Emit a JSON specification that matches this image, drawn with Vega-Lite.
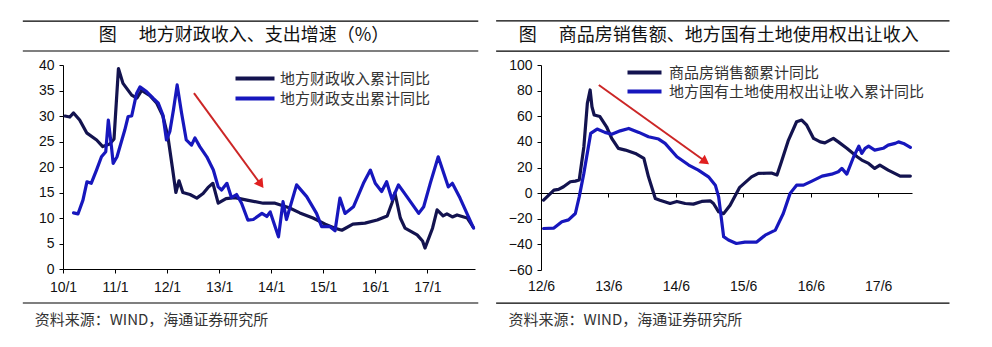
{
  "$schema": "https://vega.github.io/schema/vega-lite/v6.json",
  "background": "white",
  "padding": {"left": 22, "top": 20, "right": 0, "bottom": 0},
  "autosize": {"type": "pad"},
  "config": {"view": {"stroke": null}, "font": "Liberation Sans"},
  "spacing": 16,
  "resolve": {"scale": {"color": "independent", "x": "independent", "y": "independent"}, "legend": {"color": "independent"}},
  "datasets": {
    "fiscal": [
      {"d": "2010-01-15", "v": 30, "s": "地方财政收入累计同比"},
      {"d": "2010-02-18", "v": 29.8, "s": "地方财政收入累计同比"},
      {"d": "2010-03-16", "v": 30.6, "s": "地方财政收入累计同比"},
      {"d": "2010-04-28", "v": 29.2, "s": "地方财政收入累计同比"},
      {"d": "2010-06-16", "v": 26.7, "s": "地方财政收入累计同比"},
      {"d": "2010-08-25", "v": 25.3, "s": "地方财政收入累计同比"},
      {"d": "2010-10-07", "v": 24, "s": "地方财政收入累计同比"},
      {"d": "2010-11-25", "v": 24.5, "s": "地方财政收入累计同比"},
      {"d": "2010-12-25", "v": 25.5, "s": "地方财政收入累计同比"},
      {"d": "2011-01-25", "v": 39.3, "s": "地方财政收入累计同比"},
      {"d": "2011-02-26", "v": 36.4, "s": "地方财政收入累计同比"},
      {"d": "2011-04-28", "v": 34.1, "s": "地方财政收入累计同比"},
      {"d": "2011-06-03", "v": 33.5, "s": "地方财政收入累计同比"},
      {"d": "2011-07-07", "v": 35, "s": "地方财政收入累计同比"},
      {"d": "2011-09-03", "v": 34, "s": "地方财政收入累计同比"},
      {"d": "2011-10-21", "v": 32.5, "s": "地方财政收入累计同比"},
      {"d": "2011-12-03", "v": 30, "s": "地方财政收入累计同比"},
      {"d": "2012-01-07", "v": 26, "s": "地方财政收入累计同比"},
      {"d": "2012-02-07", "v": 20, "s": "地方财政收入累计同比"},
      {"d": "2012-03-03", "v": 15, "s": "地方财政收入累计同比"},
      {"d": "2012-03-25", "v": 17.3, "s": "地方财政收入累计同比"},
      {"d": "2012-04-21", "v": 15, "s": "地方财政收入累计同比"},
      {"d": "2012-06-10", "v": 14.6, "s": "地方财政收入累计同比"},
      {"d": "2012-07-28", "v": 13.9, "s": "地方财政收入累计同比"},
      {"d": "2012-09-10", "v": 14.8, "s": "地方财政收入累计同比"},
      {"d": "2012-10-15", "v": 16, "s": "地方财政收入累计同比"},
      {"d": "2012-11-18", "v": 16.8, "s": "地方财政收入累计同比"},
      {"d": "2012-12-25", "v": 12.9, "s": "地方财政收入累计同比"},
      {"d": "2013-02-18", "v": 13.8, "s": "地方财政收入累计同比"},
      {"d": "2013-04-21", "v": 14, "s": "地方财政收入累计同比"},
      {"d": "2013-07-15", "v": 13.5, "s": "地方财政收入累计同比"},
      {"d": "2013-11-06", "v": 12.9, "s": "地方财政收入累计同比"},
      {"d": "2014-01-28", "v": 12.9, "s": "地方财政收入累计同比"},
      {"d": "2014-05-07", "v": 12, "s": "地方财政收入累计同比"},
      {"d": "2014-07-21", "v": 11, "s": "地方财政收入累计同比"},
      {"d": "2014-10-21", "v": 10, "s": "地方财政收入累计同比"},
      {"d": "2015-01-15", "v": 8.8, "s": "地方财政收入累计同比"},
      {"d": "2015-03-25", "v": 8, "s": "地方财政收入累计同比"},
      {"d": "2015-05-12", "v": 7.6, "s": "地方财政收入累计同比"},
      {"d": "2015-07-28", "v": 8.8, "s": "地方财政收入累计同比"},
      {"d": "2015-10-21", "v": 9, "s": "地方财政收入累计同比"},
      {"d": "2016-01-15", "v": 9.6, "s": "地方财政收入累计同比"},
      {"d": "2016-03-25", "v": 10.4, "s": "地方财政收入累计同比"},
      {"d": "2016-04-28", "v": 13, "s": "地方财政收入累计同比"},
      {"d": "2016-05-18", "v": 14.9, "s": "地方财政收入累计同比"},
      {"d": "2016-06-25", "v": 10, "s": "地方财政收入累计同比"},
      {"d": "2016-07-28", "v": 8, "s": "地方财政收入累计同比"},
      {"d": "2016-10-21", "v": 6.7, "s": "地方财政收入累计同比"},
      {"d": "2016-11-28", "v": 5.5, "s": "地方财政收入累计同比"},
      {"d": "2016-12-15", "v": 4.1, "s": "地方财政收入累计同比"},
      {"d": "2017-02-06", "v": 8, "s": "地方财政收入累计同比"},
      {"d": "2017-03-10", "v": 11.6, "s": "地方财政收入累计同比"},
      {"d": "2017-04-21", "v": 10.4, "s": "地方财政收入累计同比"},
      {"d": "2017-05-18", "v": 10.8, "s": "地方财政收入累计同比"},
      {"d": "2017-06-25", "v": 10.2, "s": "地方财政收入累计同比"},
      {"d": "2017-07-28", "v": 10.6, "s": "地方财政收入累计同比"},
      {"d": "2017-10-07", "v": 10, "s": "地方财政收入累计同比"},
      {"d": "2017-11-18", "v": 8.2, "s": "地方财政收入累计同比"},
      {"d": "2010-03-16", "v": 11, "s": "地方财政支出累计同比"},
      {"d": "2010-04-16", "v": 10.8, "s": "地方财政支出累计同比"},
      {"d": "2010-05-21", "v": 13.5, "s": "地方财政支出累计同比"},
      {"d": "2010-06-18", "v": 17.1, "s": "地方财政支出累计同比"},
      {"d": "2010-07-18", "v": 16.8, "s": "地方财政支出累计同比"},
      {"d": "2010-08-24", "v": 19.4, "s": "地方财政支出累计同比"},
      {"d": "2010-09-28", "v": 22, "s": "地方财政支出累计同比"},
      {"d": "2010-10-28", "v": 23, "s": "地方财政支出累计同比"},
      {"d": "2010-11-15", "v": 29.2, "s": "地方财政支出累计同比"},
      {"d": "2010-12-07", "v": 24, "s": "地方财政支出累计同比"},
      {"d": "2010-12-19", "v": 20.7, "s": "地方财政支出累计同比"},
      {"d": "2011-01-15", "v": 22, "s": "地方财政支出累计同比"},
      {"d": "2011-03-10", "v": 27.2, "s": "地方财政支出累计同比"},
      {"d": "2011-04-03", "v": 29.9, "s": "地方财政支出累计同比"},
      {"d": "2011-04-28", "v": 30, "s": "地方财政支出累计同比"},
      {"d": "2011-06-01", "v": 34.4, "s": "地方财政支出累计同比"},
      {"d": "2011-06-25", "v": 35.7, "s": "地方财政支出累计同比"},
      {"d": "2011-08-10", "v": 34.8, "s": "地方财政支出累计同比"},
      {"d": "2011-09-25", "v": 33.5, "s": "地方财政支出累计同比"},
      {"d": "2011-11-01", "v": 32.5, "s": "地方财政支出累计同比"},
      {"d": "2011-12-03", "v": 30.2, "s": "地方财政支出累计同比"},
      {"d": "2011-12-28", "v": 25.3, "s": "地方财政支出累计同比"},
      {"d": "2012-01-21", "v": 27, "s": "地方财政支出累计同比"},
      {"d": "2012-02-15", "v": 31.2, "s": "地方财政支出累计同比"},
      {"d": "2012-03-12", "v": 36.1, "s": "地方财政支出累计同比"},
      {"d": "2012-04-12", "v": 30.6, "s": "地方财政支出累计同比"},
      {"d": "2012-05-15", "v": 25.3, "s": "地方财政支出累计同比"},
      {"d": "2012-06-21", "v": 24.3, "s": "地方财政支出累计同比"},
      {"d": "2012-07-15", "v": 25.7, "s": "地方财政支出累计同比"},
      {"d": "2012-08-18", "v": 24, "s": "地方财政支出累计同比"},
      {"d": "2012-10-06", "v": 22, "s": "地方财政支出累计同比"},
      {"d": "2012-11-21", "v": 19.4, "s": "地方财政支出累计同比"},
      {"d": "2012-12-25", "v": 16.1, "s": "地方财政支出累计同比"},
      {"d": "2013-01-18", "v": 15.5, "s": "地方财政支出累计同比"},
      {"d": "2013-02-24", "v": 16.8, "s": "地方财政支出累计同比"},
      {"d": "2013-03-28", "v": 14, "s": "地方财政支出累计同比"},
      {"d": "2013-05-03", "v": 14.6, "s": "地方财政支出累计同比"},
      {"d": "2013-06-07", "v": 12.9, "s": "地方财政支出累计同比"},
      {"d": "2013-07-21", "v": 9.6, "s": "地方财政支出累计同比"},
      {"d": "2013-08-28", "v": 9.7, "s": "地方财政支出累计同比"},
      {"d": "2013-10-28", "v": 10.9, "s": "地方财政支出累计同比"},
      {"d": "2013-12-01", "v": 10.3, "s": "地方财政支出累计同比"},
      {"d": "2013-12-25", "v": 11.2, "s": "地方财政支出累计同比"},
      {"d": "2014-02-21", "v": 6.3, "s": "地方财政支出累计同比"},
      {"d": "2014-03-25", "v": 13.2, "s": "地方财政支出累计同比"},
      {"d": "2014-04-18", "v": 9.7, "s": "地方财政支出累计同比"},
      {"d": "2014-06-28", "v": 16.5, "s": "地方财政支出累计同比"},
      {"d": "2014-09-07", "v": 14.2, "s": "地方财政支出累计同比"},
      {"d": "2014-11-15", "v": 10.9, "s": "地方财政支出累计同比"},
      {"d": "2014-12-21", "v": 8.3, "s": "地方财政支出累计同比"},
      {"d": "2015-02-18", "v": 8.3, "s": "地方财政支出累计同比"},
      {"d": "2015-03-25", "v": 7.5, "s": "地方财政支出累计同比"},
      {"d": "2015-04-28", "v": 13.9, "s": "地方财政支出累计同比"},
      {"d": "2015-06-03", "v": 10.9, "s": "地方财政支出累计同比"},
      {"d": "2015-08-01", "v": 12.2, "s": "地方财政支出累计同比"},
      {"d": "2015-10-10", "v": 16.8, "s": "地方财政支出累计同比"},
      {"d": "2015-11-28", "v": 19.4, "s": "地方财政支出累计同比"},
      {"d": "2016-01-01", "v": 16.8, "s": "地方财政支出累计同比"},
      {"d": "2016-02-15", "v": 15.2, "s": "地方财政支出累计同比"},
      {"d": "2016-03-21", "v": 17.1, "s": "地方财政支出累计同比"},
      {"d": "2016-04-28", "v": 13.6, "s": "地方财政支出累计同比"},
      {"d": "2016-06-12", "v": 16.5, "s": "地方财政支出累计同比"},
      {"d": "2016-08-10", "v": 14.2, "s": "地方财政支出累计同比"},
      {"d": "2016-11-01", "v": 10.9, "s": "地方财政支出累计同比"},
      {"d": "2016-12-06", "v": 12.2, "s": "地方财政支出累计同比"},
      {"d": "2017-01-21", "v": 16.8, "s": "地方财政支出累计同比"},
      {"d": "2017-03-18", "v": 22, "s": "地方财政支出累计同比"},
      {"d": "2017-05-28", "v": 16.1, "s": "地方财政支出累计同比"},
      {"d": "2017-06-25", "v": 16.8, "s": "地方财政支出累计同比"},
      {"d": "2017-08-18", "v": 13.9, "s": "地方财政支出累计同比"},
      {"d": "2017-11-21", "v": 8, "s": "地方财政支出累计同比"}
    ],
    "land": [
      {"d": "2012-06-15", "v": -5.5, "s": "商品房销售额累计同比"},
      {"d": "2012-07-13", "v": -1.6, "s": "商品房销售额累计同比"},
      {"d": "2012-08-10", "v": 2.3, "s": "商品房销售额累计同比"},
      {"d": "2012-09-04", "v": 2.9, "s": "商品房销售额累计同比"},
      {"d": "2012-10-01", "v": 5, "s": "商品房销售额累计同比"},
      {"d": "2012-11-07", "v": 8.9, "s": "商品房销售额累计同比"},
      {"d": "2012-12-04", "v": 9.4, "s": "商品房销售额累计同比"},
      {"d": "2012-12-25", "v": 10.2, "s": "商品房销售额累计同比"},
      {"d": "2013-01-19", "v": 36, "s": "商品房销售额累计同比"},
      {"d": "2013-02-07", "v": 70, "s": "商品房销售额累计同比"},
      {"d": "2013-02-22", "v": 80.5, "s": "商品房销售额累计同比"},
      {"d": "2013-03-04", "v": 67.4, "s": "商品房销售额累计同比"},
      {"d": "2013-03-16", "v": 61, "s": "商品房销售额累计同比"},
      {"d": "2013-04-16", "v": 59.8, "s": "商品房销售额累计同比"},
      {"d": "2013-05-22", "v": 51.8, "s": "商品房销售额累计同比"},
      {"d": "2013-06-19", "v": 42.7, "s": "商品房销售额累计同比"},
      {"d": "2013-07-25", "v": 34.9, "s": "商品房销售额累计同比"},
      {"d": "2013-09-01", "v": 33.6, "s": "商品房销售额累计同比"},
      {"d": "2013-10-25", "v": 31, "s": "商品房销售额累计同比"},
      {"d": "2013-12-10", "v": 27.1, "s": "商品房销售额累计同比"},
      {"d": "2014-01-04", "v": 12.7, "s": "商品房销售额累计同比"},
      {"d": "2014-02-10", "v": -4.2, "s": "商品房销售额累计同比"},
      {"d": "2014-03-07", "v": -5.5, "s": "商品房销售额累计同比"},
      {"d": "2014-05-01", "v": -8.1, "s": "商品房销售额累计同比"},
      {"d": "2014-06-07", "v": -6.5, "s": "商品房销售额累计同比"},
      {"d": "2014-07-22", "v": -8.1, "s": "商品房销售额累计同比"},
      {"d": "2014-09-04", "v": -8.6, "s": "商品房销售额累计同比"},
      {"d": "2014-10-19", "v": -6.5, "s": "商品房销售额累计同比"},
      {"d": "2014-12-04", "v": -6, "s": "商品房销售额累计同比"},
      {"d": "2014-12-22", "v": -8.1, "s": "商品房销售额累计同比"},
      {"d": "2015-01-19", "v": -14.6, "s": "商品房销售额累计同比"},
      {"d": "2015-02-15", "v": -16, "s": "商品房销售额累计同比"},
      {"d": "2015-03-22", "v": -9.4, "s": "商品房销售额累计同比"},
      {"d": "2015-05-13", "v": 4.5, "s": "商品房销售额累计同比"},
      {"d": "2015-07-16", "v": 12.7, "s": "商品房销售额累计同比"},
      {"d": "2015-08-22", "v": 15.4, "s": "商品房销售额累计同比"},
      {"d": "2015-11-01", "v": 15.7, "s": "商品房销售额累计同比"},
      {"d": "2015-12-01", "v": 14.1, "s": "商品房销售额累计同比"},
      {"d": "2015-12-25", "v": 24.5, "s": "商品房销售额累计同比"},
      {"d": "2016-02-01", "v": 41.4, "s": "商品房销售额累计同比"},
      {"d": "2016-03-16", "v": 55.7, "s": "商品房销售额累计同比"},
      {"d": "2016-04-13", "v": 57, "s": "商品房销售额累计同比"},
      {"d": "2016-05-10", "v": 53, "s": "商品房销售额累计同比"},
      {"d": "2016-06-16", "v": 42.7, "s": "商品房销售额累计同比"},
      {"d": "2016-07-22", "v": 40, "s": "商品房销售额累计同比"},
      {"d": "2016-08-16", "v": 39.2, "s": "商品房销售额累计同比"},
      {"d": "2016-10-01", "v": 42.7, "s": "商品房销售额累计同比"},
      {"d": "2016-10-28", "v": 40, "s": "商品房销售额累计同比"},
      {"d": "2016-12-13", "v": 35, "s": "商品房销售额累计同比"},
      {"d": "2017-02-07", "v": 28.4, "s": "商品房销售额累计同比"},
      {"d": "2017-03-04", "v": 25.8, "s": "商品房销售额累计同比"},
      {"d": "2017-04-10", "v": 23.2, "s": "商品房销售额累计同比"},
      {"d": "2017-05-13", "v": 19.3, "s": "商品房销售额累计同比"},
      {"d": "2017-06-10", "v": 21.9, "s": "商品房销售额累计同比"},
      {"d": "2017-07-25", "v": 18, "s": "商品房销售额累计同比"},
      {"d": "2017-09-28", "v": 13.3, "s": "商品房销售额累计同比"},
      {"d": "2017-11-22", "v": 13.3, "s": "商品房销售额累计同比"},
      {"d": "2012-06-15", "v": -27.6, "s": "地方国有土地使用权出让收入累计同比"},
      {"d": "2012-08-10", "v": -27.3, "s": "地方国有土地使用权出让收入累计同比"},
      {"d": "2012-09-22", "v": -22.4, "s": "地方国有土地使用权出让收入累计同比"},
      {"d": "2012-10-28", "v": -20.9, "s": "地方国有土地使用权出让收入累计同比"},
      {"d": "2012-12-04", "v": -15.9, "s": "地方国有土地使用权出让收入累计同比"},
      {"d": "2012-12-25", "v": -2.9, "s": "地方国有土地使用权出让收入累计同比"},
      {"d": "2013-01-19", "v": 15.4, "s": "地方国有土地使用权出让收入累计同比"},
      {"d": "2013-02-25", "v": 46.6, "s": "地方国有土地使用权出让收入累计同比"},
      {"d": "2013-04-01", "v": 50, "s": "地方国有土地使用权出让收入累计同比"},
      {"d": "2013-05-13", "v": 47.4, "s": "地方国有土地使用权出让收入累计同比"},
      {"d": "2013-06-19", "v": 45.9, "s": "地方国有土地使用权出让收入累计同比"},
      {"d": "2013-08-04", "v": 48.6, "s": "地方国有土地使用权出让收入累计同比"},
      {"d": "2013-09-19", "v": 50.5, "s": "地方国有土地使用权出让收入累计同比"},
      {"d": "2013-11-13", "v": 47.4, "s": "地方国有土地使用权出让收入累计同比"},
      {"d": "2014-01-04", "v": 44, "s": "地方国有土地使用权出让收入累计同比"},
      {"d": "2014-02-28", "v": 42.2, "s": "地方国有土地使用权出让收入累计同比"},
      {"d": "2014-04-04", "v": 38.8, "s": "地方国有土地使用权出让收入累计同比"},
      {"d": "2014-06-07", "v": 28.4, "s": "地方国有土地使用权出让收入累计同比"},
      {"d": "2014-08-10", "v": 21.9, "s": "地方国有土地使用权出让收入累计同比"},
      {"d": "2014-10-01", "v": 18, "s": "地方国有土地使用权出让收入累计同比"},
      {"d": "2014-11-25", "v": 12.7, "s": "地方国有土地使用权出让收入累计同比"},
      {"d": "2015-01-01", "v": 6.2, "s": "地方国有土地使用权出让收入累计同比"},
      {"d": "2015-01-19", "v": -2.9, "s": "地方国有土地使用权出让收入累计同比"},
      {"d": "2015-02-15", "v": -34, "s": "地方国有土地使用权出让收入累计同比"},
      {"d": "2015-03-13", "v": -36.6, "s": "地方国有土地使用权出让收入累计同比"},
      {"d": "2015-04-25", "v": -39.3, "s": "地方国有土地使用权出让收入累计同比"},
      {"d": "2015-06-10", "v": -38.2, "s": "地方国有土地使用权出让收入累计同比"},
      {"d": "2015-08-13", "v": -38.2, "s": "地方国有土地使用权出让收入累计同比"},
      {"d": "2015-09-28", "v": -32.8, "s": "地方国有土地使用权出让收入累计同比"},
      {"d": "2015-11-22", "v": -28.9, "s": "地方国有土地使用权出让收入累计同比"},
      {"d": "2016-01-04", "v": -15.9, "s": "地方国有土地使用权出让收入累计同比"},
      {"d": "2016-02-10", "v": -0.2, "s": "地方国有土地使用权出让收入累计同比"},
      {"d": "2016-03-16", "v": 6.2, "s": "地方国有土地使用权出让收入累计同比"},
      {"d": "2016-04-22", "v": 6.2, "s": "地方国有土地使用权出让收入累计同比"},
      {"d": "2016-06-07", "v": 9.4, "s": "地方国有土地使用权出让收入累计同比"},
      {"d": "2016-08-01", "v": 13.3, "s": "地方国有土地使用权出让收入累计同比"},
      {"d": "2016-09-22", "v": 14.8, "s": "地方国有土地使用权出让收入累计同比"},
      {"d": "2016-10-28", "v": 16.7, "s": "地方国有土地使用权出让收入累计同比"},
      {"d": "2016-11-16", "v": 19.3, "s": "地方国有土地使用权出让收入累计同比"},
      {"d": "2016-12-13", "v": 14.8, "s": "地方国有土地使用权出让收入累计同比"},
      {"d": "2017-01-19", "v": 28.4, "s": "地方国有土地使用权出让收入累计同比"},
      {"d": "2017-02-16", "v": 36.7, "s": "地方国有土地使用权出让收入累计同比"},
      {"d": "2017-03-04", "v": 31, "s": "地方国有土地使用权出让收入累计同比"},
      {"d": "2017-03-22", "v": 35, "s": "地方国有土地使用权出让收入累计同比"},
      {"d": "2017-04-10", "v": 36.7, "s": "地方国有土地使用权出让收入累计同比"},
      {"d": "2017-05-13", "v": 33.6, "s": "地方国有土地使用权出让收入累计同比"},
      {"d": "2017-06-28", "v": 35, "s": "地方国有土地使用权出让收入累计同比"},
      {"d": "2017-07-25", "v": 37.5, "s": "地方国有土地使用权出让收入累计同比"},
      {"d": "2017-09-01", "v": 38.8, "s": "地方国有土地使用权出让收入累计同比"},
      {"d": "2017-09-19", "v": 40, "s": "地方国有土地使用权出让收入累计同比"},
      {"d": "2017-10-16", "v": 38.8, "s": "地方国有土地使用权出让收入累计同比"},
      {"d": "2017-11-22", "v": 35.7, "s": "地方国有土地使用权出让收入累计同比"}
    ]
  },
  "hconcat": [
    {
      "width": 412,
      "height": 204,
      "resolve": {"scale": {"x": "independent", "y": "independent"}},
      "layer": [
        {
          "data": {"name": "fiscal"},
          "mark": {"type": "line", "strokeWidth": 3.2, "strokeJoin": "round", "strokeCap": "round"},
          "encoding": {
            "x": {
              "field": "d", "type": "temporal",
              "scale": {"domain": [{"year": 2010, "month": 1, "date": 1}, {"year": 2017, "month": 12, "date": 1}]},
              "axis": {
                "title": null, "grid": false, "format": "%y/%-m",
                "values": [{"year": 2010, "month": 1, "date": 1}, {"year": 2011, "month": 1, "date": 1}, {"year": 2012, "month": 1, "date": 1}, {"year": 2013, "month": 1, "date": 1}, {"year": 2014, "month": 1, "date": 1}, {"year": 2015, "month": 1, "date": 1}, {"year": 2016, "month": 1, "date": 1}, {"year": 2017, "month": 1, "date": 1}],
                "labelFlush": false, "labelOverlap": false, "tickSize": 4, "labelPadding": 7,
                "domainColor": "#000", "tickColor": "#000", "labelColor": "#111",
                "labelFont": "Liberation Sans", "labelFontSize": 14
              }
            },
            "y": {
              "field": "v", "type": "quantitative",
              "scale": {"domain": [0, 40], "nice": false, "zero": false},
              "axis": {
                "title": null, "grid": false, "values": [0, 5, 10, 15, 20, 25, 30, 35, 40],
                "labelOverlap": false, "labelFlush": false,
                "tickSize": 4, "labelPadding": 5, "domainColor": "#000", "tickColor": "#000",
                "labelColor": "#111", "labelFont": "Liberation Sans", "labelFontSize": 14
              }
            },
            "color": {
              "field": "s", "type": "nominal",
              "scale": {"domain": ["地方财政收入累计同比", "地方财政支出累计同比"], "range": ["#13134f", "#1717bd"]},
              "legend": {
                "title": null, "orient": "none", "legendX": 170, "legendY": 6, "padding": 0,
                "symbolType": "M-1,0H6.8", "symbolSize": 100, "symbolStrokeWidth": 4,
                "rowPadding": 3, "labelOffset": 32, "labelLimit": 400,
                "labelFont": "Noto Sans CJK SC", "labelFontSize": 15, "labelColor": "#333"
              }
            }
          }
        },
        {
          "data": {"values": [{}]},
          "layer": [
            {
              "mark": {"type": "rule", "color": "#000", "strokeWidth": 1.2},
              "encoding": {
                "x": {"datum": {"year": 2009, "month": 3, "date": 25}, "type": "temporal", "axis": null, "scale": {"domain": [{"year": 2010, "month": 1, "date": 1}, {"year": 2017, "month": 12, "date": 1}]}},
                "x2": {"datum": {"year": 2017, "month": 12, "date": 24}},
                "y": {"datum": 48.6, "type": "quantitative", "axis": null, "scale": {"domain": [0, 40], "nice": false, "zero": false}}
              }
            },
            {
              "mark": {"type": "rule", "color": "#000", "strokeWidth": 1.2},
              "encoding": {
                "x": {"datum": {"year": 2009, "month": 3, "date": 25}, "type": "temporal", "axis": null, "scale": {"domain": [{"year": 2010, "month": 1, "date": 1}, {"year": 2017, "month": 12, "date": 1}]}},
                "x2": {"datum": {"year": 2017, "month": 12, "date": 24}},
                "y": {"datum": 42.75, "type": "quantitative", "axis": null, "scale": {"domain": [0, 40], "nice": false, "zero": false}}
              }
            },
            {
              "mark": {"type": "rule", "color": "#000", "strokeWidth": 1.2},
              "encoding": {
                "x": {"datum": {"year": 2009, "month": 3, "date": 25}, "type": "temporal", "axis": null, "scale": {"domain": [{"year": 2010, "month": 1, "date": 1}, {"year": 2017, "month": 12, "date": 1}]}},
                "x2": {"datum": {"year": 2017, "month": 12, "date": 24}},
                "y": {"datum": -6.67, "type": "quantitative", "axis": null, "scale": {"domain": [0, 40], "nice": false, "zero": false}}
              }
            },
            {
              "mark": {"type": "text", "align": "center", "baseline": "middle", "font": "Noto Sans CJK SC", "fontSize": 18, "color": "#111"},
              "encoding": {
                "x": {"datum": {"year": 2013, "month": 6, "date": 24}, "type": "temporal", "axis": null, "scale": {"domain": [{"year": 2010, "month": 1, "date": 1}, {"year": 2017, "month": 12, "date": 1}]}},
                "y": {"datum": 45.7, "type": "quantitative", "axis": null, "scale": {"domain": [0, 40], "nice": false, "zero": false}},
                "text": {"value": "图　 地方财政收入、支出增速（%）"}
              }
            },
            {
              "mark": {"type": "text", "align": "left", "baseline": "middle", "font": "Noto Sans CJK SC", "fontSize": 15, "color": "#333"},
              "encoding": {
                "x": {"datum": {"year": 2009, "month": 6, "date": 16}, "type": "temporal", "axis": null, "scale": {"domain": [{"year": 2010, "month": 1, "date": 1}, {"year": 2017, "month": 12, "date": 1}]}},
                "y": {"datum": -10, "type": "quantitative", "axis": null, "scale": {"domain": [0, 40], "nice": false, "zero": false}},
                "text": {"value": "资料来源：WIND，海通证券研究所"}
              }
            },
            {
              "mark": {"type": "rule", "color": "#cc2626", "strokeWidth": 2},
              "encoding": {
                "x": {"datum": {"year": 2012, "month": 7, "date": 8}, "type": "temporal", "axis": null, "scale": {"domain": [{"year": 2010, "month": 1, "date": 1}, {"year": 2017, "month": 12, "date": 1}]}},
                "x2": {"datum": {"year": 2013, "month": 10, "date": 25}},
                "y": {"datum": 34.5, "type": "quantitative", "axis": null, "scale": {"domain": [0, 40], "nice": false, "zero": false}},
                "y2": {"datum": 16.4}
              }
            },
            {
              "mark": {"type": "point", "shape": "triangle-up", "filled": true, "size": 110, "angle": 144, "color": "#e02020", "opacity": 1},
              "encoding": {
                "x": {"datum": {"year": 2013, "month": 10, "date": 20}, "type": "temporal", "axis": null, "scale": {"domain": [{"year": 2010, "month": 1, "date": 1}, {"year": 2017, "month": 12, "date": 1}]}},
                "y": {"datum": 16.6, "type": "quantitative", "axis": null, "scale": {"domain": [0, 40], "nice": false, "zero": false}}
              }
            }
          ]
        }
      ]
    },
    {
      "width": 371,
      "height": 205,
      "resolve": {"scale": {"x": "independent", "y": "independent"}},
      "layer": [
        {
          "data": {"name": "land"},
          "mark": {"type": "line", "strokeWidth": 3.2, "strokeJoin": "round", "strokeCap": "round"},
          "encoding": {
            "x": {
              "field": "d", "type": "temporal",
              "scale": {"domain": [{"year": 2012, "month": 6, "date": 1}, {"year": 2017, "month": 12, "date": 1}]},
              "axis": {
                "title": null, "grid": false, "format": "%y/%-m",
                "values": [{"year": 2012, "month": 6, "date": 1}, {"year": 2013, "month": 6, "date": 1}, {"year": 2014, "month": 6, "date": 1}, {"year": 2015, "month": 6, "date": 1}, {"year": 2016, "month": 6, "date": 1}, {"year": 2017, "month": 6, "date": 1}],
                "offset": -77, "labelFlush": false, "labelOverlap": false, "tickSize": 4, "labelPadding": 82,
                "domainColor": "#000", "tickColor": "#000", "labelColor": "#111",
                "labelFont": "Liberation Sans", "labelFontSize": 14
              }
            },
            "y": {
              "field": "v", "type": "quantitative",
              "scale": {"domain": [-60, 100], "nice": false, "zero": false},
              "axis": {
                "title": null, "grid": false, "values": [-60, -40, -20, 0, 20, 40, 60, 80, 100],
                "labelOverlap": false, "labelFlush": false,
                "tickSize": 4, "labelPadding": 5, "domainColor": "#000", "tickColor": "#000",
                "labelColor": "#111", "labelFont": "Liberation Sans", "labelFontSize": 14
              }
            },
            "color": {
              "field": "s", "type": "nominal",
              "scale": {"domain": ["商品房销售额累计同比", "地方国有土地使用权出让收入累计同比"], "range": ["#13134f", "#1717bd"]},
              "legend": {
                "title": null, "orient": "none", "legendX": 84, "legendY": 0, "padding": 0,
                "symbolType": "M-1,0H5.8", "symbolSize": 100, "symbolStrokeWidth": 4,
                "rowPadding": 2, "labelOffset": 29, "labelLimit": 400,
                "labelFont": "Noto Sans CJK SC", "labelFontSize": 15, "labelColor": "#333"
              }
            }
          }
        },
        {
          "data": {"values": [{}]},
          "layer": [
            {
              "mark": {"type": "rule", "color": "#000", "strokeWidth": 1.2},
              "encoding": {
                "x": {"datum": {"year": 2011, "month": 10, "date": 2}, "type": "temporal", "axis": null, "scale": {"domain": [{"year": 2012, "month": 6, "date": 1}, {"year": 2017, "month": 12, "date": 1}]}},
                "x2": {"datum": {"year": 2018, "month": 6, "date": 22}},
                "y": {"datum": 134.4, "type": "quantitative", "axis": null, "scale": {"domain": [-60, 100], "nice": false, "zero": false}}
              }
            },
            {
              "mark": {"type": "rule", "color": "#000", "strokeWidth": 1.2},
              "encoding": {
                "x": {"datum": {"year": 2011, "month": 10, "date": 2}, "type": "temporal", "axis": null, "scale": {"domain": [{"year": 2012, "month": 6, "date": 1}, {"year": 2017, "month": 12, "date": 1}]}},
                "x2": {"datum": {"year": 2018, "month": 6, "date": 22}},
                "y": {"datum": 110.9, "type": "quantitative", "axis": null, "scale": {"domain": [-60, 100], "nice": false, "zero": false}}
              }
            },
            {
              "mark": {"type": "rule", "color": "#000", "strokeWidth": 1.2},
              "encoding": {
                "x": {"datum": {"year": 2011, "month": 10, "date": 2}, "type": "temporal", "axis": null, "scale": {"domain": [{"year": 2012, "month": 6, "date": 1}, {"year": 2017, "month": 12, "date": 1}]}},
                "x2": {"datum": {"year": 2018, "month": 6, "date": 22}},
                "y": {"datum": -85.9, "type": "quantitative", "axis": null, "scale": {"domain": [-60, 100], "nice": false, "zero": false}}
              }
            },
            {
              "mark": {"type": "text", "align": "center", "baseline": "middle", "font": "Noto Sans CJK SC", "fontSize": 18, "color": "#111"},
              "encoding": {
                "x": {"datum": {"year": 2015, "month": 1, "date": 20}, "type": "temporal", "axis": null, "scale": {"domain": [{"year": 2012, "month": 6, "date": 1}, {"year": 2017, "month": 12, "date": 1}]}},
                "y": {"datum": 122.7, "type": "quantitative", "axis": null, "scale": {"domain": [-60, 100], "nice": false, "zero": false}},
                "text": {"value": "图　 商品房销售额、地方国有土地使用权出让收入"}
              }
            },
            {
              "mark": {"type": "text", "align": "left", "baseline": "middle", "font": "Noto Sans CJK SC", "fontSize": 15, "color": "#333"},
              "encoding": {
                "x": {"datum": {"year": 2011, "month": 12, "date": 8}, "type": "temporal", "axis": null, "scale": {"domain": [{"year": 2012, "month": 6, "date": 1}, {"year": 2017, "month": 12, "date": 1}]}},
                "y": {"datum": -99.2, "type": "quantitative", "axis": null, "scale": {"domain": [-60, 100], "nice": false, "zero": false}},
                "text": {"value": "资料来源：WIND，海通证券研究所"}
              }
            },
            {
              "mark": {"type": "rule", "color": "#cc2626", "strokeWidth": 2},
              "encoding": {
                "x": {"datum": {"year": 2013, "month": 4, "date": 10}, "type": "temporal", "axis": null, "scale": {"domain": [{"year": 2012, "month": 6, "date": 1}, {"year": 2017, "month": 12, "date": 1}]}},
                "x2": {"datum": {"year": 2014, "month": 11, "date": 20}},
                "y": {"datum": 84.4, "type": "quantitative", "axis": null, "scale": {"domain": [-60, 100], "nice": false, "zero": false}},
                "y2": {"datum": 23.5}
              }
            },
            {
              "mark": {"type": "point", "shape": "triangle-up", "filled": true, "size": 110, "angle": 126, "color": "#e02020", "opacity": 1},
              "encoding": {
                "x": {"datum": {"year": 2014, "month": 11, "date": 8}, "type": "temporal", "axis": null, "scale": {"domain": [{"year": 2012, "month": 6, "date": 1}, {"year": 2017, "month": 12, "date": 1}]}},
                "y": {"datum": 24.6, "type": "quantitative", "axis": null, "scale": {"domain": [-60, 100], "nice": false, "zero": false}}
              }
            }
          ]
        }
      ]
    }
  ]
}
